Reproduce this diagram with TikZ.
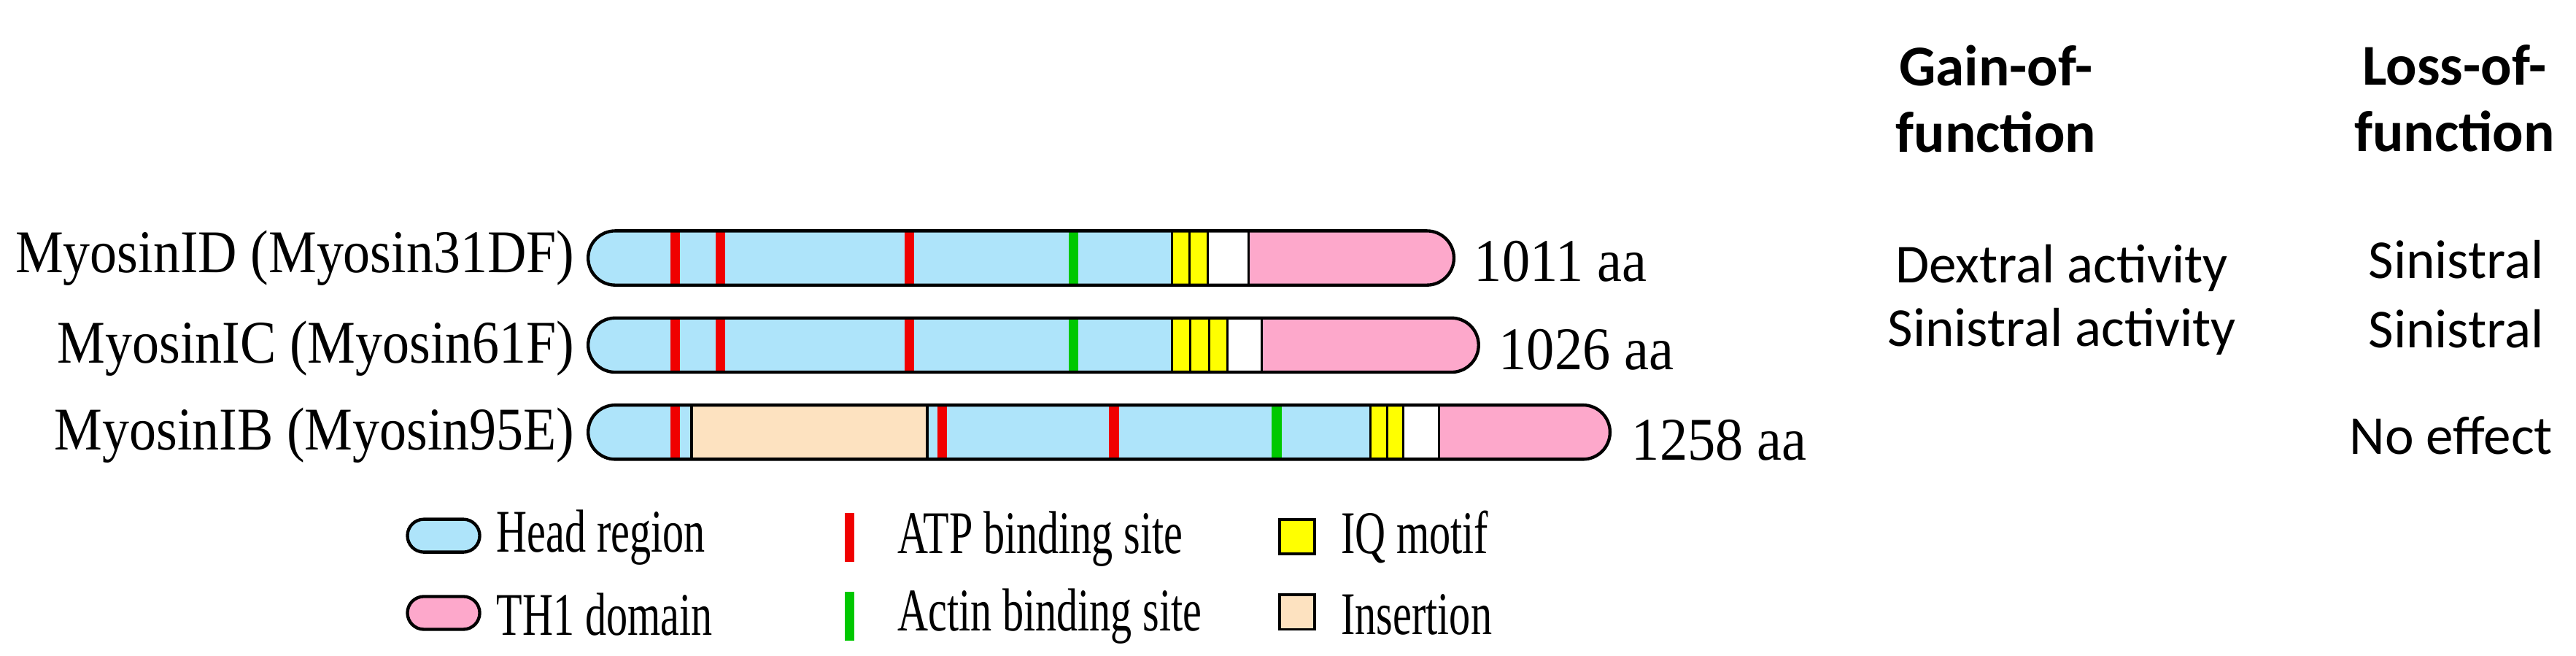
\documentclass[tikz,border=0pt]{standalone}
\usepackage{fontspec}
\usepackage{graphicx}
\setmainfont{Liberation Serif}
\newfontfamily\sansf{Carlito}
\definecolor{head}{RGB}{174,228,250}
\definecolor{th}{RGB}{253,168,203}
\definecolor{ins}{RGB}{253,226,192}
\definecolor{atp}{RGB}{240,0,0}
\definecolor{act}{RGB}{0,200,0}
\definecolor{iq}{RGB}{255,255,0}
\tikzset{
 lab/.style={font=\fontsize{21}{24}\selectfont, inner sep=0pt},
 sans/.style={font=\sansf\fontsize{19}{23}\selectfont, inner sep=0pt, align=center},
 bold/.style={font=\sansf\bfseries\fontsize{20}{23}\selectfont, inner sep=0pt, align=center},
 stripe/.style={line width=0.12cm},
 outline/.style={line width=1.1pt, rounded corners=0.33cm},
}
\newcommand{\nar}[2]{\scalebox{#1}[1]{#2}}
\newcommand{\mybar}[3]{% y center, x end, content
 \begin{scope}
 \clip[rounded corners=0.33cm] (358,#1-16.5) rectangle (#2,#1+16.5);
 \fill[head] (358,#1-17) rectangle (#2,#1+17);
 #3
 \end{scope}
 \draw[outline] (358,#1-16.5) rectangle (#2,#1+16.5);}
\newcommand{\stp}[3]{\draw[stripe,#1] (#2,#3-17) -- (#2,#3+17);}
\newcommand{\seg}[4]{\fill[#1] (#2,#4-17) rectangle (#3,#4+17); \draw[line width=0.8pt] (#2,#4-17) -- (#2,#4+17) (#3,#4-17) -- (#3,#4+17);}
\begin{document}
\begin{tikzpicture}[x=0.02cm,y=-0.02cm]
\useasboundingbox (0,0) rectangle (1568,399);
% bar 1
\mybar{157}{885}{%
 \stp{atp}{411}{157}\stp{atp}{438.6}{157}\stp{atp}{553.6}{157}\stp{act}{653.4}{157}
 \seg{iq}{713.3}{724.2}{157}\seg{iq}{724.2}{735.2}{157}\seg{white}{735.2}{760}{157}
 \fill[th] (760,140) rectangle (885,174); \draw[line width=0.8pt] (760,140)--(760,174);}
% bar 2
\mybar{210}{900}{%
 \stp{atp}{411}{210}\stp{atp}{438.6}{210}\stp{atp}{553.6}{210}\stp{act}{653.4}{210}
 \seg{iq}{713.3}{724.6}{210}\seg{iq}{724.6}{735.9}{210}\seg{iq}{735.9}{747.2}{210}\seg{white}{747.2}{768}{210}
 \fill[th] (768,193) rectangle (900,227); \draw[line width=0.8pt] (768,193)--(768,227);}
% bar 3
\mybar{263}{980}{%
 \stp{atp}{411}{263}\seg{ins}{421}{564.4}{263}\stp{atp}{573.6}{263}\stp{atp}{678}{263}\stp{act}{777}{263}
 \seg{iq}{834.2}{844.2}{263}\seg{iq}{844.2}{854.2}{263}\seg{white}{854.2}{875.8}{263}
 \fill[th] (875.8,246) rectangle (980,280); \draw[line width=0.8pt] (875.8,246)--(875.8,280);}
% labels
\node[lab,anchor=east] (l1) at (350,157) {\nar{0.89}{MyosinID (Myosin31DF)}};
\node[lab,anchor=east] (l2) at (350,212) {\nar{0.89}{MyosinIC (Myosin61F)}};
\node[lab,anchor=east] (l3) at (350,265) {\nar{0.89}{MyosinIB (Myosin95E)}};
\node[lab,anchor=west] (a1) at (897,159) {\nar{0.92}{1011 aa}};
\node[lab,anchor=west] (a2) at (912,213) {\nar{0.92}{1026 aa}};
\node[lab,anchor=west] (a3) at (993,268) {\nar{0.92}{1258 aa}};
% right columns
\node[bold] (g) at (1215,60) {Gain-of-\\function};
\node[bold] (lo) at (1494,60) {Loss-of-\\function};
\node[sans] (d1) at (1255,163) {Dextral activity};
\node[sans] (d2) at (1255,202) {Sinistral activity};
\node[sans] (s1) at (1495,158) {Sinistral};
\node[sans] (s2) at (1495,200) {Sinistral};
\node[sans] (s3) at (1492,265) {No effect};
% legend
\draw[outline,fill=head,rounded corners=0.2cm] (248,316) rectangle (292,336);
\draw[outline,fill=th,rounded corners=0.2cm] (248,363) rectangle (292,383);
\node[lab,anchor=west] (h) at (302,327) {\nar{0.7}{Head region}};
\node[lab,anchor=west] (t) at (302,374) {\nar{0.7}{TH1 domain}};
\draw[stripe,atp] (517,312) -- (517,342);
\draw[stripe,act] (517,360) -- (517,390);
\node[lab,anchor=west] (at) at (546,328) {\nar{0.7}{ATP binding site}};
\node[lab,anchor=west] (ac) at (546,375) {\nar{0.7}{Actin binding site}};
\draw[line width=1pt,fill=iq] (779,316) rectangle (800,337);
\draw[line width=1pt,fill=ins] (779,362) rectangle (800,383);
\node[lab,anchor=west] (iqm) at (816,327) {\nar{0.7}{IQ motif}};
\node[lab,anchor=west] (in) at (816,374) {\nar{0.7}{Insertion}};
\end{tikzpicture}
\end{document}
